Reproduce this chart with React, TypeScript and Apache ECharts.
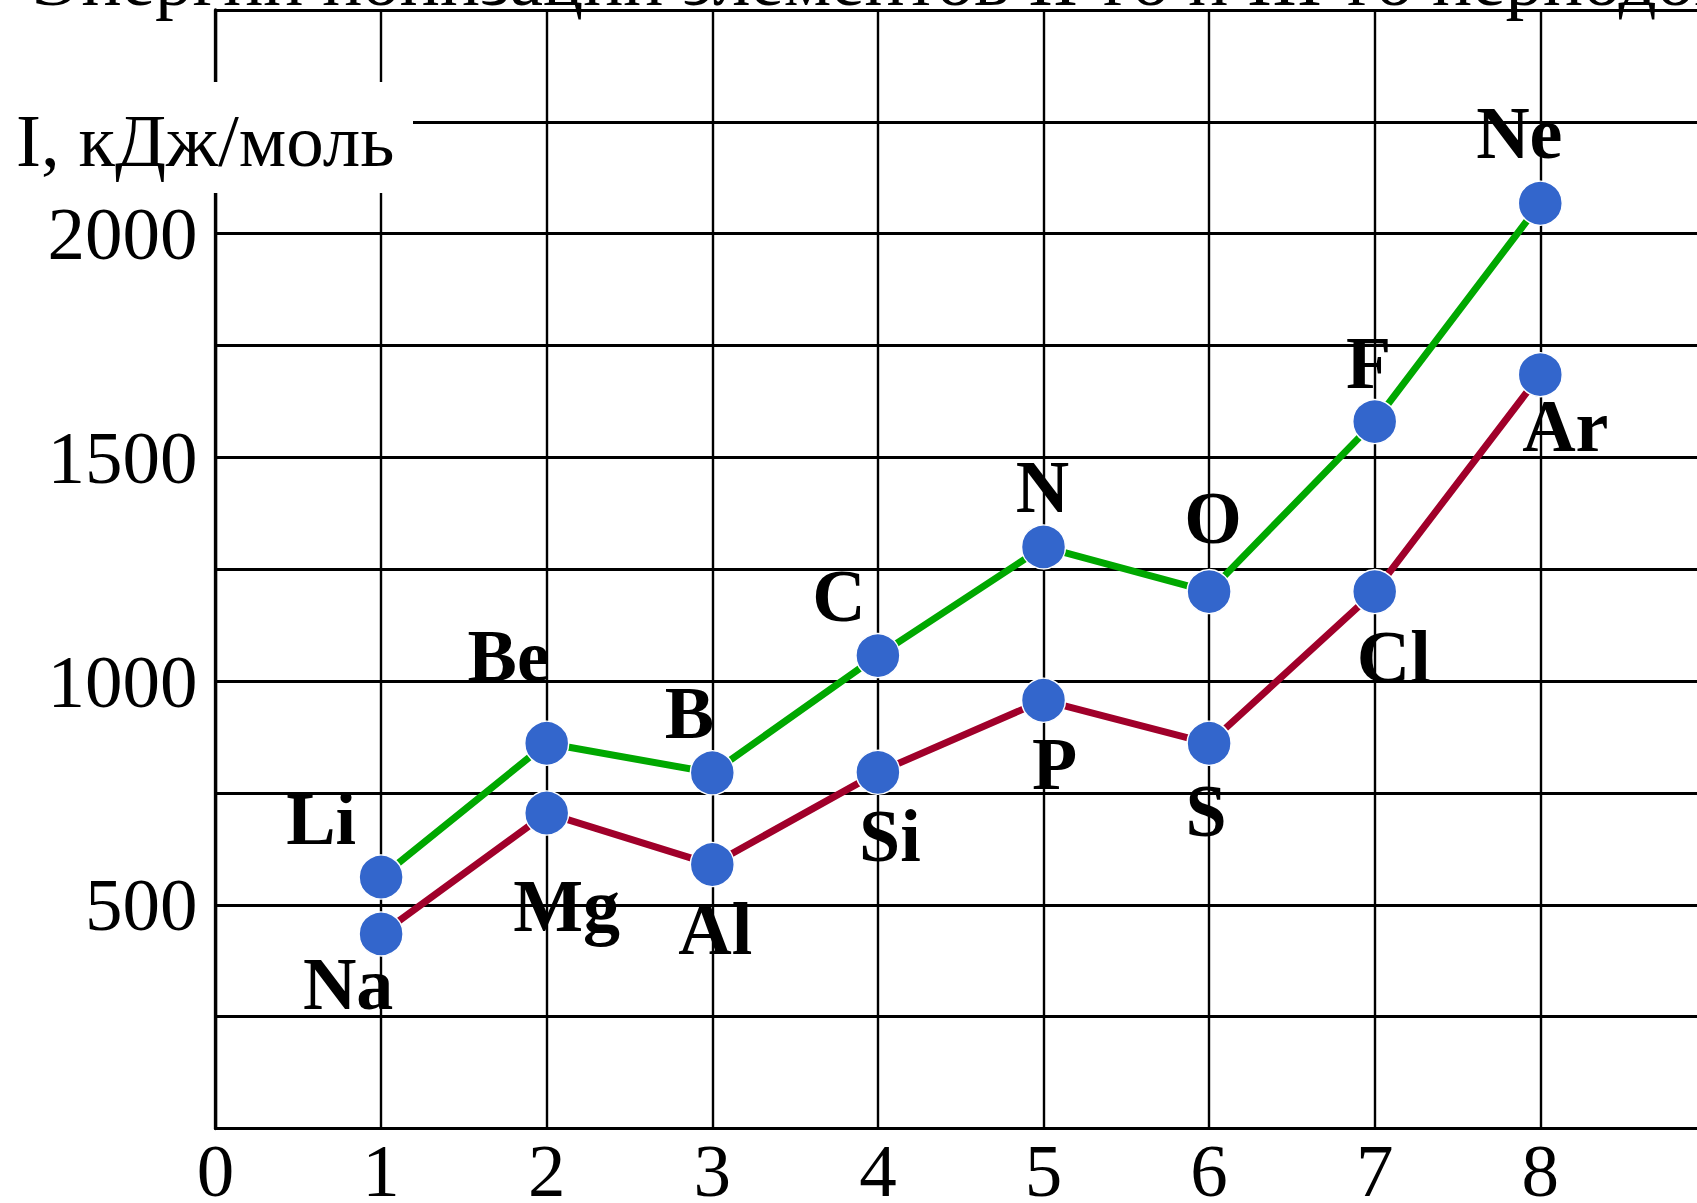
import React, { useEffect, useRef } from "react";
import * as echarts from "echarts";

// Ionization energies (kJ/mol) of the 2nd- and 3rd-period elements, by group number
const GROUPS = [1, 2, 3, 4, 5, 6, 7, 8];
const ELEMENTS_P2 = ["Li", "Be", "B", "C", "N", "O", "F", "Ne"];
const ENERGY_P2 = [562, 861, 795, 1057, 1300, 1200, 1580, 2068];
const ELEMENTS_P3 = ["Na", "Mg", "Al", "Si", "P", "S", "Cl", "Ar"];
const ENERGY_P3 = [435, 705, 590, 796, 957, 861, 1200, 1685];
const X_TICK_LABELS = ["0", "1", "2", "3", "4", "5", "6", "7", "8"];
const Y_TICK_LABELS = [500, 1000, 1500, 2000];

const TITLE = "Энергии ионизации элементов II-го и III-го периодов";
const Y_NAME = "I, кДж/моль";

// Where each element symbol sits relative to its point (px)
const LABEL_OFFSETS_P2: [number, number][] = [
  [-60, -58], [-38, -87], [-23, -60], [-39, -60],
  [-1, -60], [4, -74], [-6, -59], [-21, -70],
];
const LABEL_OFFSETS_P3: [number, number][] = [
  [-33, 50], [20, 93], [3, 64], [12, 64],
  [11, 64], [-3, 68], [19, 65], [25, 51],
];

const SERIF = "'Liberation Serif', 'Times New Roman', serif";
const MARKER = "#3366CC";
const GREEN = "#00A800";
const CRIMSON = "#A0002A";

function buildSeries(
  name: string,
  symbols: string[],
  values: number[],
  offsets: [number, number][],
  color: string
) {
  return {
    name,
    type: "line",
    data: GROUPS.map((g, i) => ({
      name: symbols[i],
      value: [g, values[i]],
      label: { offset: offsets[i] },
    })),
    symbol: "circle",
    symbolSize: 44,
    lineStyle: { color, width: 7 },
    itemStyle: { color: MARKER, borderColor: "#ffffff", borderWidth: 1.5 },
    label: {
      show: true,
      position: "inside",
      formatter: (p: any) => p.name,
      fontFamily: SERIF,
      fontWeight: "bold",
      fontSize: 74,
      color: "#000",
      align: "center",
      verticalAlign: "middle",
    },
    z: 3,
  };
}

export default function App() {
  const ref = useRef<HTMLDivElement>(null);

  useEffect(() => {
    if (!ref.current) return;
    const chart = echarts.init(ref.current, undefined, { renderer: "svg" });
    chart.setOption({
      animation: false,
      backgroundColor: "#ffffff",
      textStyle: { fontFamily: SERIF },
      grid: {
        left: 215.5,
        top: 10,
        width: 1490.4,
        height: 1118.5,
        containLabel: false,
        outerBoundsMode: "none",
      },
      xAxis: {
        type: "value",
        min: 0,
        max: 9,
        interval: 1,
        axisLine: { show: true, lineStyle: { color: "#000", width: 3 } },
        axisTick: { show: false },
        axisLabel: {
          fontFamily: SERIF,
          fontSize: 75,
          lineHeight: 56,
          color: "#000",
          margin: 14,
          formatter: (v: number) => X_TICK_LABELS[v] ?? "",
        },
        splitLine: { show: true, lineStyle: { color: "#000", width: 2.4 } },
      },
      yAxis: {
        type: "value",
        min: 0,
        max: 2500,
        interval: 250,
        axisLine: { show: true, lineStyle: { color: "#000", width: 3.3 } },
        axisTick: { show: false },
        axisLabel: {
          fontFamily: SERIF,
          fontSize: 75,
          color: "#000",
          margin: 18,
          formatter: (v: number) => (Y_TICK_LABELS.includes(v) ? String(v) : ""),
        },
        splitLine: { show: true, lineStyle: { color: "#000", width: 2.8 } },
      },
      series: [
        buildSeries("II период", ELEMENTS_P2, ENERGY_P2, LABEL_OFFSETS_P2, GREEN),
        buildSeries("III период", ELEMENTS_P3, ENERGY_P3, LABEL_OFFSETS_P3, CRIMSON),
      ],
      graphic: [
        {
          type: "rect",
          z: 100,
          shape: { x: 0, y: 82, width: 413, height: 111 },
          style: { fill: "#ffffff" },
        },
        {
          type: "text",
          z: 101,
          x: 16,
          y: 140,
          style: {
            text: Y_NAME,
            font: `75px ${SERIF}`,
            fill: "#000",
            align: "left",
            verticalAlign: "middle",
          },
        },
        {
          type: "text",
          z: 101,
          x: 32,
          y: -21,
          style: {
            text: TITLE,
            font: `75px ${SERIF}`,
            fill: "#000",
            align: "left",
            verticalAlign: "middle",
          },
        },
      ],
    });
    return () => chart.dispose();
  }, []);

  return (
    <div
      ref={ref}
      style={{ position: "absolute", left: 0, top: 0, width: 1697, height: 1203 }}
    />
  );
}
